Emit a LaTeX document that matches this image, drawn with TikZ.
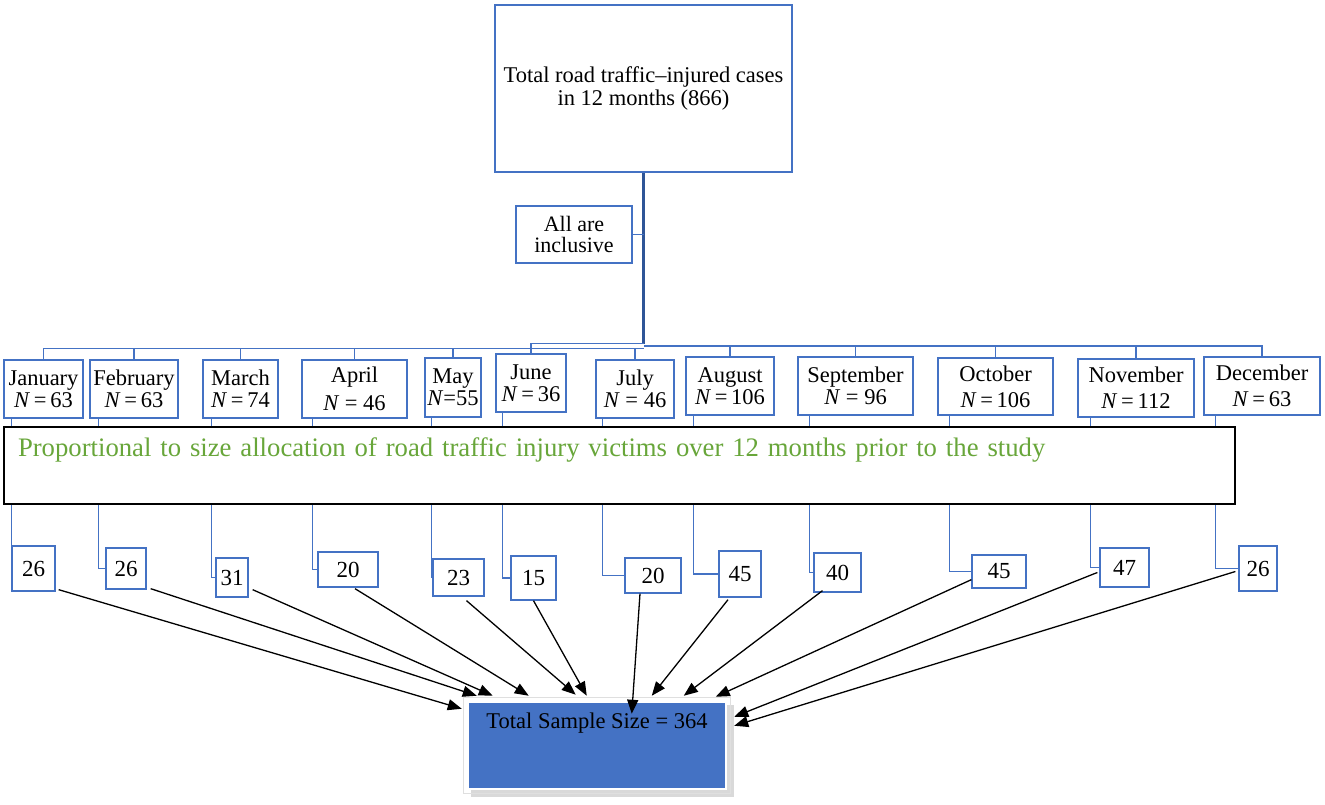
\documentclass[tikz,border=0pt]{standalone}
\usepackage{fontspec}
\setmainfont{Liberation Serif}
\usetikzlibrary{arrows.meta,calc,backgrounds}
\definecolor{obl}{RGB}{68,114,196}
\definecolor{dbl}{RGB}{47,85,151}
\definecolor{grn}{RGB}{104,166,58}
\begin{document}
\begin{tikzpicture}[x=1pt,y=-1pt,
  mbox/.style={draw=obl, line width=1.3pt, fill=white, inner sep=0pt, align=center,
    font=\fontsize{22.5}{22}\selectfont},
  nbox/.style={draw=obl, line width=1.3pt, fill=white, inner sep=0pt,
    font=\fontsize{23}{22}\selectfont},
  bl/.style={draw=obl, line width=1.3pt},
  arr/.style={draw=black, line width=1.3pt, -{Triangle[length=14pt,width=11pt]}}]
\useasboundingbox (0,0) rectangle (1325,804);

% top
\node[mbox, minimum width=297pt, minimum height=167pt, font=\fontsize{22.5}{23.5}\selectfont] (top) at (643.5,88.5)
  {Total road traffic--injured cases\\in 12 months (866)};
\node[mbox, minimum width=116pt, minimum height=57pt, font=\fontsize{22}{21}\selectfont] (incl) at (574,234.5)
  {All are\\inclusive};
\coordinate (hub) at ($(top.south)+(0,173)$);

% months
\node[mbox, minimum width=79pt,  minimum height=58pt] (jan) at (43.5,389)  {January\\\textit{N}\,=\,63};
\node[mbox, minimum width=88pt,  minimum height=58pt] (feb) at (134,389)   {February\\\textit{N}\,=\,63};
\node[mbox, minimum width=75pt,  minimum height=58pt] (mar) at (240.5,389) {March\\\textit{N}\,=\,74};
\node[mbox, minimum width=105pt, minimum height=58pt] (apr) at (354.5,389) {April\\[6pt]\textit{N} = 46};
\node[mbox, minimum width=56pt,  minimum height=59pt] (may) at (453,387.5) {May\\\textit{N}=55};
\node[mbox, minimum width=70pt,  minimum height=58pt] (jun) at (531,383)   {June\\\textit{N}\,=\,36};
\node[mbox, minimum width=78pt,  minimum height=58pt] (jul) at (635,389)   {July\\\textit{N} = 46};
\node[mbox, minimum width=88pt,  minimum height=58pt] (aug) at (730,386)   {August\\\textit{N}\,=\,106};
\node[mbox, minimum width=115pt, minimum height=58pt] (sep) at (855.5,386) {September\\\textit{N} = 96};
\node[mbox, minimum width=115pt, minimum height=57pt] (oct) at (995.5,386.5) {October\\[4pt]\textit{N}\,=\,106};
\node[mbox, minimum width=116pt, minimum height=58pt] (nov) at (1136,388)  {November\\[4pt]\textit{N}\,=\,112};
\node[mbox, minimum width=116pt, minimum height=58pt] (dec) at (1262,386)  {December\\[4pt]\textit{N}\,=\,63};

% proportional box
\node[draw=black, line width=1.8pt, fill=white, minimum width=1231pt, text width=1203pt,
  align=left, inner xsep=14pt, inner ysep=4.5pt, text height=24.5pt, text depth=43.5pt,
  text=grn, font=\fontsize{26.7}{28}\selectfont] (prop) at (619.5,465.5)
  {Proportional to size allocation of road traffic injury victims over 12 months prior to the study};

% number boxes
\node[nbox, minimum width=43pt, minimum height=45pt] (n1)  at (33.5,568.5) {26};
\node[nbox, minimum width=40pt, minimum height=41pt] (n2)  at (126,568.5)  {26};
\node[nbox, minimum width=32pt, minimum height=39pt] (n3)  at (232,577.5)  {31};
\node[nbox, minimum width=60pt, minimum height=35pt] (n4)  at (348,569.5)  {20};
\node[nbox, minimum width=51pt, minimum height=37pt] (n5)  at (458.5,577.5) {23};
\node[nbox, minimum width=45pt, minimum height=44pt] (n6)  at (533.5,578)  {15};
\node[nbox, minimum width=56pt, minimum height=35pt] (n7)  at (653,575.5)  {20};
\node[nbox, minimum width=42pt, minimum height=46pt] (n8)  at (740,574)    {45};
\node[nbox, minimum width=47pt, minimum height=39pt] (n9)  at (837.5,572.5) {40};
\node[nbox, minimum width=54pt, minimum height=33pt] (n10) at (999,571.5)  {45};
\node[nbox, minimum width=49pt, minimum height=39pt] (n11) at (1124.5,567.5) {47};
\node[nbox, minimum width=38pt, minimum height=45pt] (n12) at (1258,568.5) {26};

% total
\node[fill=obl, draw=white, line width=2.5pt, minimum width=258pt, inner xsep=0pt,
  inner ysep=10.5pt, text height=16pt, text depth=50pt,
  font=\fontsize{22.5}{24}\selectfont] (tot) at (597,745.5) {Total Sample Size = 364};
\draw[gray!25, line width=0.6pt] ($(tot.north west)+(-3,-3)$) rectangle ($(tot.south east)+(3,3)$);

\begin{pgfonlayer}{background}
  \fill[gray!30] ($(tot.north west)+(4,4)$) rectangle ($(tot.south east)+(7,7)$);
  \draw[dbl, line width=2.5pt] (top.south) -- ($(hub)+(0,-2)$);
  \draw[bl] (incl.east) -- (incl.east -| top.south);
  \foreach \m in {jan,feb,mar,apr,may,jul}{
    \draw[bl] (\m.north) |- ($(hub)+(0,3)$);
  }
  \draw[bl] (jun.north) |- ($(hub)+(0,-2)$);
  \foreach \m in {aug,sep,oct,nov,dec}{
    \draw[bl, line width=1.8pt] (\m.north) |- (hub);
  }
  % elbows
  \draw[bl] ([xshift=8pt]jan.south west)  |- (n1.west);
  \draw[bl] ([xshift=9pt]feb.south west)  |- (n2.west);
  \draw[bl] ([xshift=9pt]mar.south west)  |- (n3.west);
  \draw[bl] ([xshift=11pt]apr.south west) |- (n4.west);
  \draw[bl] ([xshift=7pt]may.south west)  |- (n5.west);
  \draw[bl] ([xshift=7pt]jun.south west)  |- (n6.west);
  \draw[bl] ([xshift=7pt]jul.south west)  |- (n7.west);
  \draw[bl] ([xshift=8pt]aug.south west)  |- (n8.west);
  \draw[bl] ([xshift=12pt]sep.south west) |- (n9.west);
  \draw[bl] ([xshift=12pt]oct.south west) |- (n10.west);
  \draw[bl] ([xshift=13pt]nov.south west) |- (n11.west);
  \draw[bl] ([xshift=12pt]dec.south west) |- (n12.west);
\end{pgfonlayer}

% arrows
\draw[arr] ($(n1.south east)+(3,-2)$) -- ($(tot.north west)+(-5,8)$);
\draw[arr] ($(n2.south east)+(4,-1)$) -- ($(tot.north west)+(10,-5)$);
\draw[arr] ($(n3.south east)+(4,-8)$) -- ($(tot.north west)+(26,-5)$);
\draw[arr] ($(n4.south)+(7,1)$)       -- ($(tot.north west)+(62,-5)$);
\draw[arr] ($(n5.south)+(8,4)$)       -- ($(tot.north west)+(109,-6)$);
\draw[arr] (n6.south)                 -- ($(tot.north west)+(120,-5)$);
\draw[arr] ($(n7.south)+(-13,0)$)     -- ($(tot.north west)+(165,13)$);
\draw[arr] ($(n8.south)+(-12,2)$)     -- ($(tot.north west)+(185,-5)$);
\draw[arr] ($(n9.south)+(-15,-2)$)    -- ($(tot.north west)+(217,-5)$);
\draw[arr] ($(n10.south west)+(0,-9)$) -- ($(tot.north west)+(249,-4)$);
\draw[arr] ($(n11.west)+(-2,5)$)      -- ($(tot.north east)+(7,16)$);
\draw[arr] ($(n12.west)+(-3,3)$)      -- ($(tot.north east)+(7,25)$);
\end{tikzpicture}
\end{document}
